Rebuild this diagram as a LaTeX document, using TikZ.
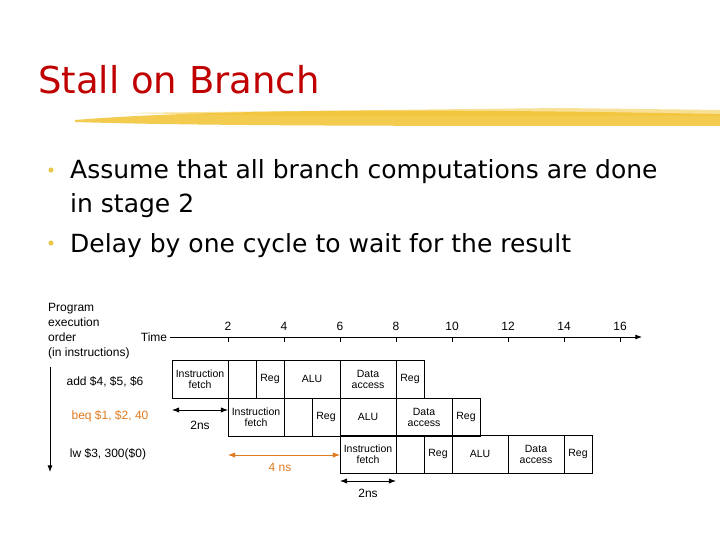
\documentclass[tikz,border=0pt]{standalone}
\usepackage{fontspec}
\setmainfont{Liberation Sans}
\newfontfamily\slidefont{DejaVu Sans}
\usetikzlibrary{arrows.meta}
\definecolor{titlered}{HTML}{C00000}
\definecolor{brush}{HTML}{F2C230}
\definecolor{orng}{HTML}{E07A1F}
\definecolor{bul}{HTML}{E8C84A}
\tikzset{
  stg/.style={draw,line width=0.8pt},
  lbl/.style={font=\fontsize{10.5}{11}\selectfont,align=center,inner sep=0pt},
  dim/.style={Latex-Latex,line width=0.9pt},
  dtxt/.style={font=\fontsize{12}{14}\selectfont,inner sep=0pt},
  btxt/.style={anchor=base west,font=\slidefont\fontsize{25}{30}\selectfont,inner sep=0pt},
}
\begin{document}
\begin{tikzpicture}[x=1pt,y=-1pt]
\useasboundingbox[fill=white] (0,0) rectangle (720,540);
% title
\node[anchor=west,text=titlered,font=\slidefont\fontsize{37}{40}\selectfont,inner sep=0pt] (title) at (38,80) {Stall on Branch};
\fill[brush,opacity=0.85] (75,120) .. controls (200,110) and (400,108) .. (720,114) -- (720,126) .. controls (400,126) and (200,126) .. (75,122) -- cycle;
\fill[brush,opacity=0.5] (120,113) -- (560,108) -- (720,110) -- (720,116) -- (300,116) -- cycle;
% bullets
\node[circle,fill=bul,inner sep=1.8pt] (b1) at (51,170) {};
\node[circle,fill=bul,inner sep=1.8pt] (b2) at (51,243) {};
\node[btxt] (t1) at (70,179) {Assume that all branch computations are done};
\node[btxt] (t1b) at (70,212) {in stage 2};
\node[btxt] (t2) at (70,252) {Delay by one cycle to wait for the result};
% left labels
\node[anchor=north west,font=\fontsize{12}{15}\selectfont,align=left,inner sep=0pt] (poe) at (48,303) {Program\\execution\\order\\(in instructions)};
\node[dtxt] (time) at (154,337) {Time};
\coordinate (ta) at (170,337);
\coordinate (tb) at (642,337);
\draw[-Latex,line width=0.8pt] (ta) -- (tb);
\foreach \t in {2,4,...,16}{
  \draw[line width=0.6pt] ({172+28*\t},337) -- ({172+28*\t},342);
  \node[dtxt] (tk\t) at ({172+28*\t},326) {\t};
}
\coordinate (da) at (50,367);
\coordinate (db) at (50,472);
\draw[-Latex,line width=0.8pt] (da) -- (db);
\node[dtxt] (i1) at (105,382) {add \$4, \$5, \$6};
\node[dtxt,text=orng] (i2) at (110,416) {beq \$1, \$2, 40};
\node[dtxt] (i3) at (108,454) {lw \$3, 300(\$0)};
% pipeline rows
\foreach \s/\y [count=\r] in {0/360,2/398,6/435}{
  \pgfmathsetmacro{\xo}{172+28*\s}
  \draw[stg] (\xo,\y) rectangle ({\xo+28*9},{\y+38});
  \foreach \d in {2,3,4,6,8}{\draw[stg] ({\xo+28*\d},\y) -- ({\xo+28*\d},{\y+38});}
  \node[lbl] (if\r) at ({\xo+28},{\y+19}) {Instruction\\fetch};
  \node[lbl] (ra\r) at ({\xo+28*3.5},{\y+19}) {Reg};
  \node[lbl] (al\r) at ({\xo+28*5},{\y+19}) {ALU};
  \node[lbl] (dm\r) at ({\xo+28*7},{\y+19}) {Data\\access};
  \node[lbl] (rb\r) at ({\xo+28*8.5},{\y+19}) {Reg};
}
% dimension arrows
\coordinate (a1) at (172,410); \coordinate (a2) at (228,410);
\draw[dim] (a1) -- (a2);
\node[dtxt] (l1) at (200,425) {2ns};
\coordinate (o1) at (228,455); \coordinate (o2) at (340,455);
\draw[dim,orng] (o1) -- (o2);
\node[dtxt,text=orng] (l2) at (280,467) {4 ns};
\coordinate (c1) at (340,481); \coordinate (c2) at (396,481);
\draw[dim] (c1) -- (c2);
\node[dtxt] (l3) at (368,493) {2ns};
\end{tikzpicture}
\end{document}
